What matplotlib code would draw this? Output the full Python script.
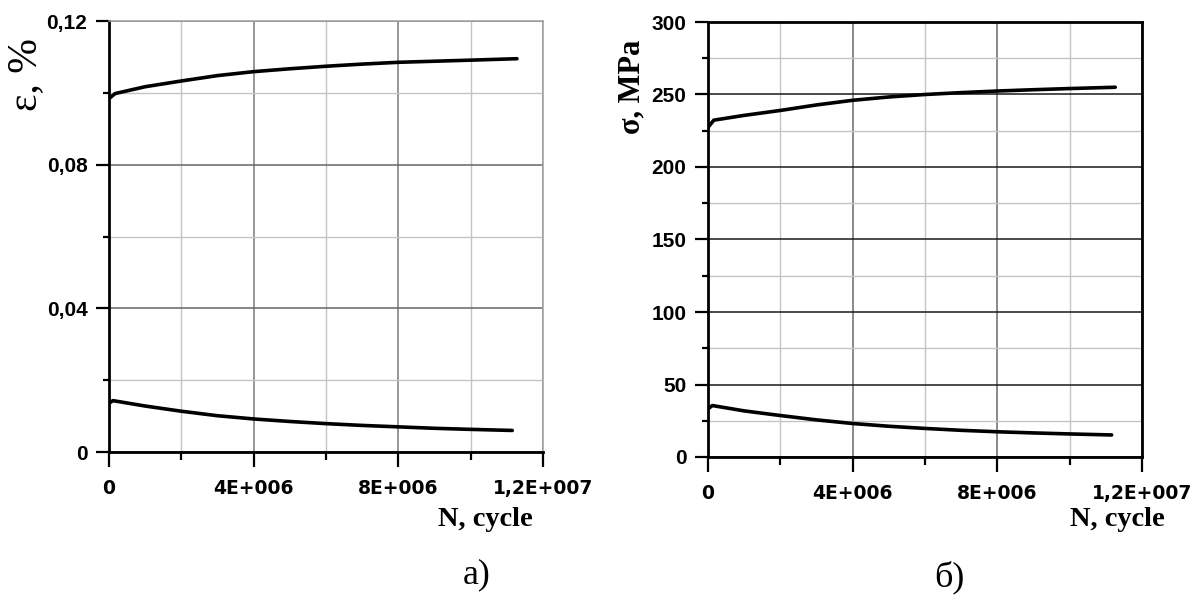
import matplotlib
matplotlib.use("Agg")
import matplotlib.pyplot as plt
from matplotlib.ticker import FixedLocator, FixedFormatter

# ---- data -------------------------------------------------------------
# strain amplitude curves, panel a)
n_eps_max = [0, 0.17e6, 1e6, 2e6, 3e6, 4e6, 5e6, 6e6, 7e6, 8e6, 9e6, 10e6, 11.28e6]
eps_max = [0.0984, 0.0998, 0.1017, 0.1033, 0.1048, 0.1059, 0.1067, 0.1074, 0.1080,
           0.1085, 0.1088, 0.1091, 0.1095]

n_eps_min = [0, 0.11e6, 1e6, 2e6, 3e6, 4e6, 5e6, 6e6, 7e6, 8e6, 9e6, 10e6, 11.15e6]
eps_min = [0.0136, 0.0143, 0.0128, 0.01135, 0.0101, 0.0092, 0.0085, 0.0079, 0.0074,
           0.0070, 0.0066, 0.0063, 0.0060]

# stress curves, panel б)
n_sig_max = [0, 0.16e6, 1e6, 2e6, 3e6, 4e6, 5e6, 6e6, 7e6, 8e6, 9e6, 10e6, 11.26e6]
sig_max = [227.3, 232.3, 235.6, 239.0, 242.8, 246.0, 248.3, 250.0, 251.3, 252.4,
           253.3, 254.1, 255.0]

n_sig_min = [0, 0.12e6, 1e6, 2e6, 3e6, 4e6, 5e6, 6e6, 7e6, 8e6, 9e6, 10e6, 11.16e6]
sig_min = [33.2, 35.5, 31.8, 28.6, 25.6, 23.1, 21.2, 19.7, 18.4, 17.4, 16.6, 15.9, 15.2]

# ticks
x_major = [0, 4e6, 8e6, 12e6]
x_minor = [2e6, 6e6, 10e6]
x_labels = ["0", "4E+006", "8E+006", "1,2E+007"]

eps_major = [0, 0.04, 0.08, 0.12]
eps_minor = [0.02, 0.06, 0.10]
eps_labels = ["0", "0,04", "0,08", "0,12"]

sig_major = [0, 50, 100, 150, 200, 250, 300]
sig_minor = [25, 75, 125, 175, 225, 275]
sig_labels = ["0", "50", "100", "150", "200", "250", "300"]

# ---- figure -----------------------------------------------------------
W, H = 1195, 595
fig = plt.figure(figsize=(W / 100, H / 100), dpi=100)
fig.patch.set_facecolor("white")


def px_axes(x0, y0, x1, y1):
    return fig.add_axes([x0 / W, 1 - y1 / H, (x1 - x0) / W, (y1 - y0) / H])


ax1 = px_axes(109, 21, 543, 452)
ax2 = px_axes(708, 22, 1142, 457)

sans = "Liberation Sans"
serif = "Liberation Serif"


def style_axes(ax, ymaj, ymin, ylabels, ylim, hmaj_color, vmaj_color, box_color, box_lw):
    ax.set_xlim(0, 12e6)
    ax.set_ylim(*ylim)
    ax.xaxis.set_major_locator(FixedLocator(x_major))
    ax.xaxis.set_minor_locator(FixedLocator(x_minor))
    ax.xaxis.set_major_formatter(FixedFormatter(x_labels))
    ax.yaxis.set_major_locator(FixedLocator(ymaj))
    ax.yaxis.set_minor_locator(FixedLocator(ymin))
    ax.yaxis.set_major_formatter(FixedFormatter(ylabels))

    ax.set_axisbelow(True)
    ax.grid(which="major", axis="y", color=hmaj_color, lw=1.1)
    ax.grid(which="major", axis="x", color=vmaj_color, lw=1.1)
    ax.grid(which="minor", color="#c4c4c4", lw=1.0)

    for side in ("left", "bottom"):
        ax.spines[side].set_linewidth(2.0)
        ax.spines[side].set_color("black")
    for side in ("top", "right"):
        ax.spines[side].set_linewidth(box_lw)
        ax.spines[side].set_color(box_color)

    ax.tick_params(which="both", direction="out", top=False, right=False,
                   width=1.6, color="black")
    ax.tick_params(axis="y", which="major", length=9.5, pad=6)
    ax.tick_params(axis="y", which="minor", length=4.5)
    ax.tick_params(axis="x", which="major", length=10.5, pad=9)
    ax.tick_params(axis="x", which="minor", length=5.5)

    for lab in ax.get_yticklabels():
        lab.set_fontfamily(sans)
        lab.set_fontweight("bold")
        lab.set_fontsize(15)
    for lab in ax.get_xticklabels():
        lab.set_fontfamily("DejaVu Sans")
        lab.set_fontweight("bold")
        lab.set_fontsize(13.5)


style_axes(ax1, eps_major, eps_minor, eps_labels, (0, 0.12),
           "#666666", "#7a7a7a", "#a0a0a0", 1.1)
style_axes(ax2, sig_major, sig_minor, sig_labels, (0, 300),
           "#1a1a1a", "#6a6a6a", "black", 2.0)

line_kw = dict(color="black", lw=2.6, solid_capstyle="round", solid_joinstyle="round")
ax1.plot(n_eps_max, eps_max, **line_kw)
ax1.plot(n_eps_min, eps_min, **line_kw)
ax2.plot(n_sig_max, sig_max, **line_kw)
ax2.plot(n_sig_min, sig_min, **line_kw)

# axis titles
fig.text(26 / W, 1 - 75 / H, "ε, %", rotation=90, ha="center", va="center",
         fontfamily=serif, fontsize=30)
fig.text(632 / W, 1 - 87 / H, "σ, MPa", rotation=90, ha="center", va="center",
         fontfamily=serif, fontweight="bold", fontsize=22)
fig.text(485 / W, 1 - 520 / H, "N, cycle", ha="center", va="center",
         fontfamily=serif, fontweight="bold", fontsize=20.5)
fig.text(1117 / W, 1 - 520 / H, "N, cycle", ha="center", va="center",
         fontfamily=serif, fontweight="bold", fontsize=20.5)

# panel captions
fig.text(477 / W, 1 - 575 / H, "а)", ha="center", va="center",
         fontfamily=serif, fontsize=26)
fig.text(949 / W, 1 - 577 / H, "б)", ha="center", va="center",
         fontfamily=serif, fontsize=26)

fig.savefig("out.png", dpi=100, facecolor="white")
